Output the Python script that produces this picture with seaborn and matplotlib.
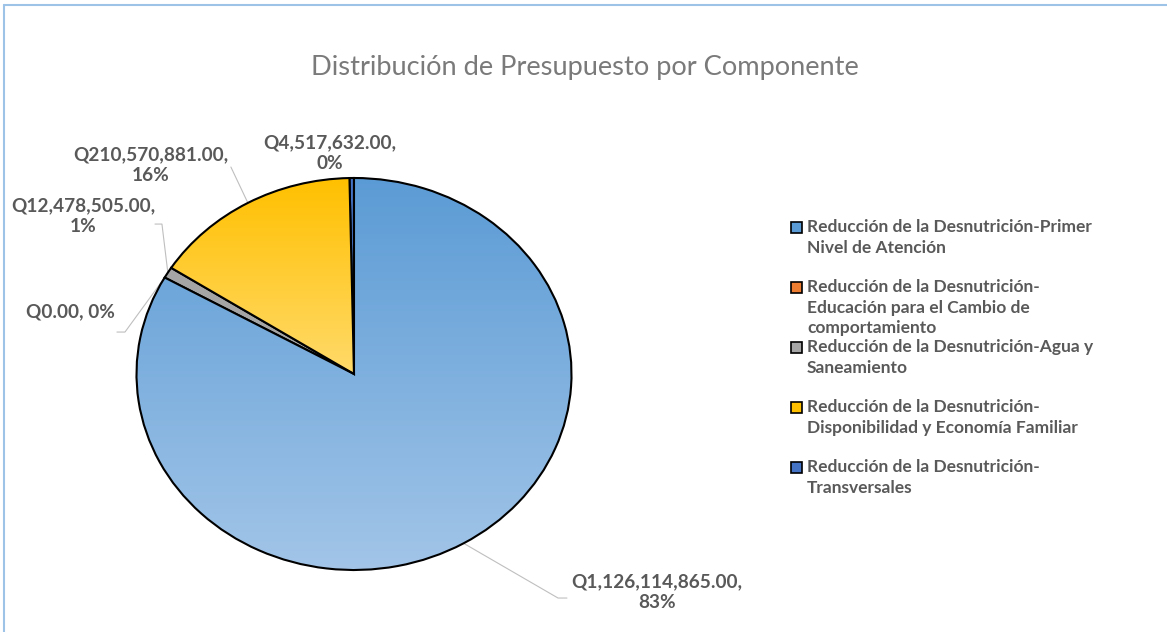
import numpy as np
import matplotlib
matplotlib.use("Agg")
import matplotlib.pyplot as plt
import matplotlib.colors as mcolors
import seaborn as sns
from matplotlib.lines import Line2D
from matplotlib.patches import Rectangle

# datos
componentes = [
    "Reducción de la Desnutrición-Primer\nNivel de Atención",
    "Reducción de la Desnutrición-\nEducación para el Cambio de\ncomportamiento",
    "Reducción de la Desnutrición-Agua y\nSaneamiento",
    "Reducción de la Desnutrición-\nDisponibilidad y Economía Familiar",
    "Reducción de la Desnutrición-\nTransversales",
]
presupuesto = [1126114865.00, 0.00, 12478505.00, 210570881.00, 4517632.00]
titulo = "Distribución de Presupuesto por Componente"

# estilo
colores_arriba = ["#5B9BD5", "#ED7D31", "#A5A5A5", "#FFC000", "#4472C4"]
colores_abajo = ["#A2C5E8", "#ED7D31", "#A5A5A5", "#FFDA6A", "#4472C4"]
gris_texto = "#595959"

# posiciones de etiquetas (en radios) y puntos de las guías
pos_etiquetas = [(1.393, -1.112), (-1.306, 0.316), (-1.246, 0.806),
                 (-0.935, 1.066), (-0.110, 1.128)]
guias = [
    [(0.938, -1.143), (0.979, -1.143)],
    [(-1.053, 0.214), (-1.090, 0.214)],
    [(-0.883, 0.765), (-0.915, 0.765)],
    [(-0.566, 1.056)],
    [],
]

sns.set_theme(style="white")
plt.rcParams["font.family"] = ["Lato", "DejaVu Sans"]

W, H = 1167, 632
fig = plt.figure(figsize=(W / 100, H / 100), dpi=100)
ax = fig.add_axes([0, 0, 1, 1])

wedges, _ = ax.pie(presupuesto, startangle=90, counterclock=False,
                   colors=colores_arriba,
                   wedgeprops=dict(edgecolor="black", linewidth=1.5))

# relleno degradado
g = np.linspace(0, 1, 256)[:, None, None]
for w, ca, cb in zip(wedges, colores_arriba, colores_abajo):
    if ca == cb:
        continue
    bb = w.get_path().get_extents()
    img = np.array(mcolors.to_rgb(ca)) * (1 - g) + np.array(mcolors.to_rgb(cb)) * g
    im = ax.imshow(img, extent=(bb.x0, bb.x1, bb.y0, bb.y1), origin="upper",
                   aspect="auto", interpolation="bilinear", zorder=1)
    im.set_clip_path(w)
    w.set_facecolor("none")
    w.set_zorder(2)

# etiquetas de datos
total = sum(presupuesto)
for w, v, (lx, ly), pts in zip(wedges, presupuesto, pos_etiquetas, guias):
    pct = 100 * v / total
    sep = " " if v == 0 else "\n"
    ax.text(lx, ly, f"Q{v:,.2f},{sep}{pct:.0f}%", ha="center", va="center",
            fontsize=13.7, fontweight="bold", color=gris_texto, linespacing=1.3)
    if pts:
        ang = np.deg2rad((w.theta1 + w.theta2) / 2)
        xs = [np.cos(ang)] + [p[0] for p in pts]
        ys = [np.sin(ang)] + [p[1] for p in pts]
        ax.plot(xs, ys, color="#BFBFBF", lw=0.8, zorder=0)

ax.set_aspect("auto")
ax.set_xlim(-354 / 217.5, (W - 354) / 217.5)
ax.set_ylim(-(H - 374) / 196, 374 / 196)
ax.axis("off")

fig.text(585 / W, 1 - 67 / H, titulo, ha="center", va="center",
         fontsize=19.6, color="#7A7A7A")

# leyenda como en Excel: cada entrada ocupa el mismo alto
y_ley, paso = 227, 60
for i, (lab, c) in enumerate(zip(componentes, colores_arriba)):
    y = y_ley + i * paso
    fig.add_artist(Rectangle((791 / W, 1 - (y + 6) / H), 11 / W, 11 / H,
                             facecolor=c, edgecolor="black", lw=1.2,
                             transform=fig.transFigure))
    fig.text(807 / W, 1 - (y - 8) / H, lab, ha="left", va="top",
             fontsize=12.5, fontweight="bold", color=gris_texto, linespacing=1.35)

# borde del área del gráfico
borde = "#9DC3E6"
fig.add_artist(Line2D([4 / W, 1], [1 - 5 / H, 1 - 5 / H], color=borde, lw=1.5,
                      transform=fig.transFigure))
fig.add_artist(Line2D([4 / W, 4 / W], [0, 1 - 5 / H], color=borde, lw=1.5,
                      transform=fig.transFigure))

fig.savefig("out.png", dpi=100, facecolor="white")
